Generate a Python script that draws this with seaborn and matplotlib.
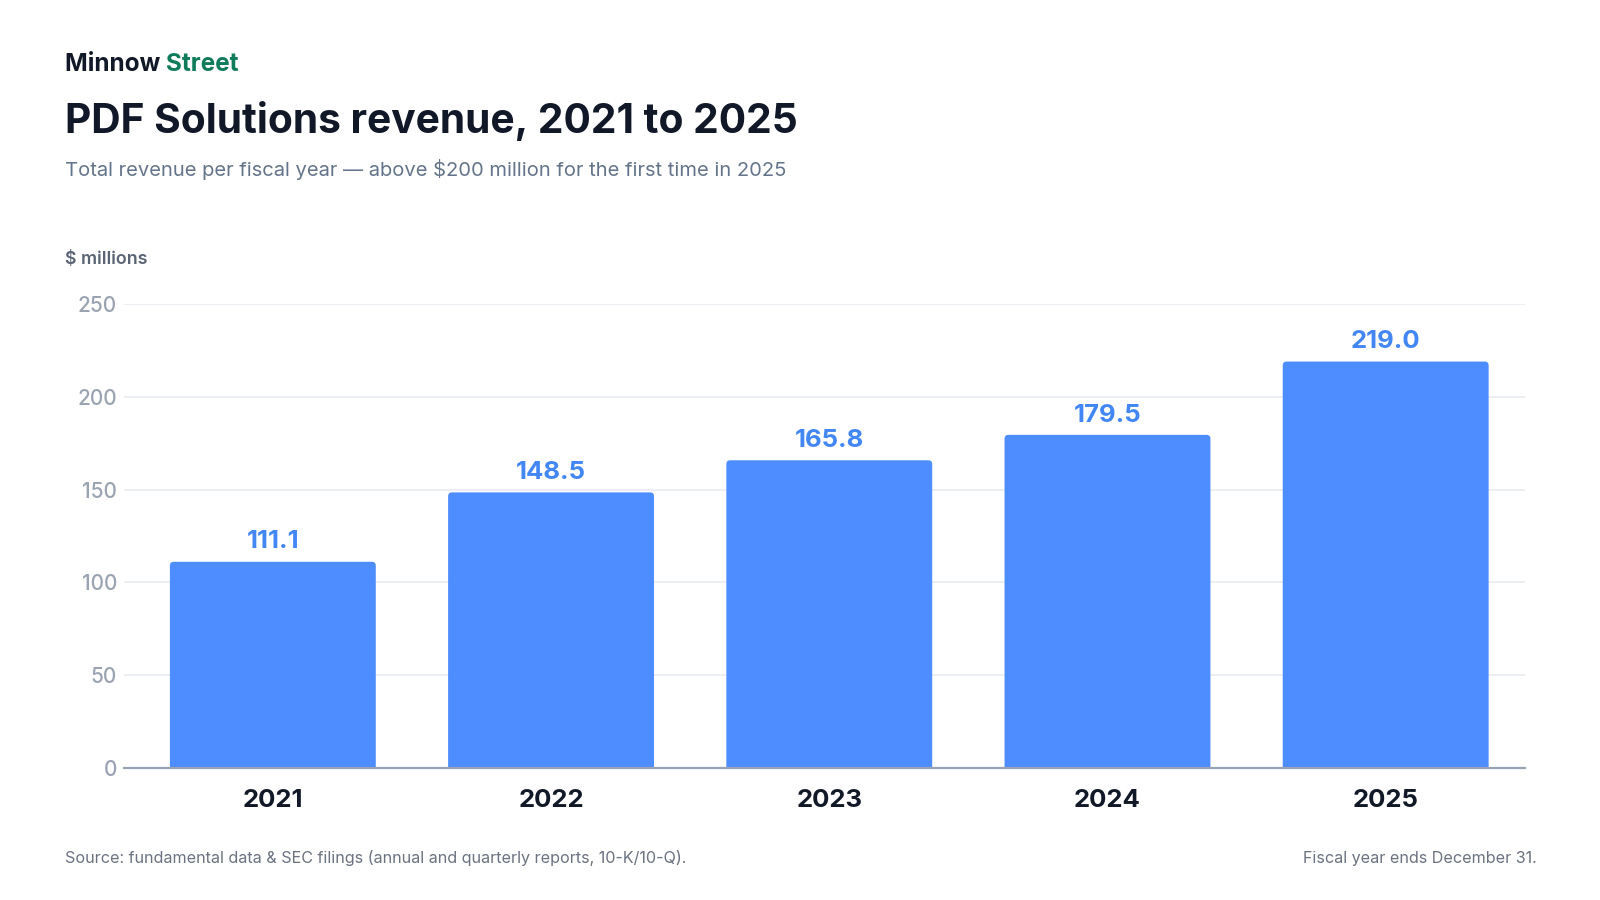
import matplotlib
matplotlib.use("Agg")
import matplotlib.pyplot as plt
from matplotlib.patches import FancyBboxPatch
import seaborn as sns
import pandas as pd

# data
years = ["2021", "2022", "2023", "2024", "2025"]
revenue = [111.1, 148.5, 165.8, 179.5, 219.0]
y_ticks = [0, 50, 100, 150, 200, 250]

df = pd.DataFrame({"year": years, "revenue": revenue})

sns.set_theme(style="white")
plt.rcParams["font.family"] = ["Inter", "DejaVu Sans"]

fig = plt.figure(figsize=(16, 9), dpi=100)
ax = fig.add_axes([0.0775, 0.1467, 0.953 - 0.0775, 0.6622 - 0.1467])

sns.barplot(data=df, x="year", y="revenue", color="#4d8dff", width=0.74,
            saturation=1, ax=ax, zorder=3)

ax.set_ylim(0, 250)
ax.set_xlim(-0.535, 4.5)
ax.set_yticks(y_ticks)
ax.set_xlabel("")
ax.set_ylabel("")
ax.grid(axis="y", color="#e8ebf0", linewidth=1.2, zorder=0)
ax.grid(axis="x", visible=False)
for s in ["top", "right", "left"]:
    ax.spines[s].set_visible(False)
ax.spines["bottom"].set_color("#9aa3b5")
ax.spines["bottom"].set_linewidth(1.6)
ax.spines["bottom"].set_zorder(4)

# slightly rounded bar tops (the bottom corners are pushed below the axis)
for p in ax.patches:
    x0, w, h = p.get_x(), p.get_width(), p.get_height()
    rb = FancyBboxPatch((x0, -4), w, h + 4,
                        boxstyle="round,pad=0,rounding_size=0.014",
                        mutation_aspect=150, facecolor=p.get_facecolor(),
                        edgecolor="none", zorder=3)
    p.set_visible(False)
    ax.add_patch(rb)

ax.tick_params(axis="y", length=0, pad=5, labelsize=15, labelcolor="#9aa3b2")
ax.tick_params(axis="x", length=0, pad=15, labelsize=18.5, labelcolor="#111827")
for lab in ax.get_xticklabels():
    lab.set_fontweight("bold")
for lab in ax.get_yticklabels():
    lab.set_fontweight("medium")

ax.bar_label(ax.containers[0], labels=[f"{v:.1f}" for v in revenue],
             padding=6, fontsize=18.5, fontweight="bold", color="#4287f5")

# headings
t1 = fig.text(0.0406, 1 - 71 / 900, "Minnow ", fontsize=17.5, fontweight="bold",
              color="#111827", va="baseline")
fig.canvas.draw()
bb = t1.get_window_extent()
fig.text(bb.x1 / 1600, 1 - 71 / 900, "Street", fontsize=17.5, fontweight="bold",
         color="#0e7c5a", va="baseline")
fig.text(0.0406, 1 - 133 / 900, "PDF Solutions revenue, 2021 to 2025",
         fontsize=29.3, fontweight="bold", color="#111827", va="baseline")
fig.text(0.0406, 1 - 176 / 900,
         "Total revenue per fiscal year \u2014 above $200 million for the first time in 2025",
         fontsize=14.5, color="#64748b", va="baseline")
fig.text(0.0406, 1 - 264 / 900, "$ millions", fontsize=12.8, fontweight="semibold",
         color="#5b6475", va="baseline")

# footer
fig.text(0.0406, 1 - 863 / 900,
         "Source: fundamental data & SEC filings (annual and quarterly reports, 10-K/10-Q).",
         fontsize=11.6, color="#6b7280", va="baseline")
fig.text(0.9606, 1 - 863 / 900, "Fiscal year ends December 31.",
         fontsize=11.6, color="#6b7280", va="baseline", ha="right")

fig.savefig("out.png", dpi=100, facecolor="white")
